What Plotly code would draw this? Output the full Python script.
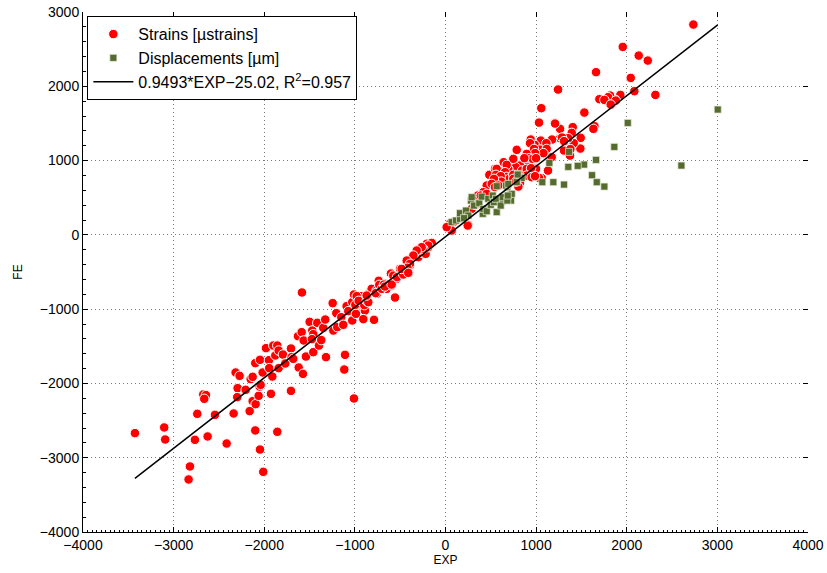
import plotly.graph_objects as go

# Strains [µstrains] (EXP, FE)
strain_exp = [-3427,-3104,-3093,-2835,-2820,-2765,-2739,-2625,-2673,-2643,-2662,-2544,-2415,-2338,-2316,-2272,-2294,-2298,-2205,-2161,-2150,-2128,-2099,-2128,-2095,-2099,-2062,-2051,-2040,-2047,-2011,-2047,-2018,-1981,-1948,-1945,-1926,-1911,-1900,-1856,-1878,-1856,-1841,-1841,-1794,-1768,-1705,-1705,-1698,-1680,-1628,-1620,-1587,-1573,-1584,-1565,-1540,-1499,-1470,-1459,-1474,-1459,-1415,-1396,-1371,-1349,-1327,-1319,-1245,-1238,-1205,-1194,-1150,-1128,-1109,-1117,-1091,-1073,-1029,-1029,-1010,-988,-1010,-933,-907,-889,-870,-833,-815,-789,-760,-756,-668,-649,-594,-557,-539,
              -980,-995,-958,-907,-896,-870,-852,-870,-770,-737,-731,-704,-679,-668,-602,-576,-594,-535,-502,-466,-428,-406,-392,-318,-300,-300,-256,-245,-219,-207,-190,
              -152,-190,-245,-263,-318,-355,-428,-392,-421,-484,-411,
              86,50,68,13,252,289,326,362,411,455,539,484,546,601,668,731,778,877,914,999,
              2735,1956,2132,2232,2044,1661,1242,2316,2084,1929,1874,1816,1794,1819,1698,1532,1057,1032,1205,1264,1404,1643,1632,1492,1488,1393,1415,1355,1264,1308,1374,1175,1113,1051,940,985,1043,1080,1131,1062,1172,969,999,914,877,914,822,775,786,748,859,822,657,693,565,620,417,355,245,
              1209,1286,1308,1378,1113,1117,1080,933,977,988,896,925,962,999,870,999,1032,844,896,944,896,951,988,642,675,557,657,675,712,748,609,616,535,510,546,583,804,748,778,389,455,
              1753,1879,1823]
strain_fe = [-2669,-2593,-2755,-3293,-3118,-2759,-2409,-2714,-2149,-2157,-2207,-2423,-2809,-2405,-1853,-1898,-2064,-2185,-2086,-2373,-1942,-1911,-1727,-2239,-2279,-2633,-2167,-2042,-2019,-2890,-3190,-1682,-1853,-1525,-1687,-1794,-2140,-1907,-1490,-1490,-1624,-2651,-1557,-1794,-1611,-1732,-1530,-2100,-1646,-1669,-1364,-1786,-1310,-1871,-776,-1422,-1638,-1171,-1288,-1337,-1404,-1579,-1184,-1490,-1417,-1252,-1140,-1646,-919,-1288,-1054,-1242,-1108,-1211,-1615,-1813,-960,-1027,-906,-1153,-2203,-1063,-803,-825,-960,-1019,-861,-771,-727,-1144,-750,-794,-659,-727,-682,-844,-592,
             -825,-942,-888,-1135,-946,-892,-906,-817,-785,-619,-673,-727,-669,-696,-521,-548,-669,-570,-458,-534,-359,-507,-413,-256,-202,-300,-242,-198,-256,-121,-166,
             -108,-144,-188,-166,-211,-278,-346,-390,-444,-458,-511,
             171,148,58,104,135,350,404,529,574,664,686,808,888,865,852,834,843,865,888,798,
             2831,2530,2413,2346,2113,2190,1956,1884,1934,1884,1817,1875,1853,1750,1826,1646,1705,1511,1503,1427,1450,1463,1427,1306,1162,1373,1234,1301,1301,1135,1067,1283,1225,1269,1283,1211,1148,1090,865,763,1046,1046,902,1046,1046,933,933,911,1144,1023,865,696,965,888,888,731,574,529,125,
             1498,1310,1261,1154,1234,1157,1100,1234,1157,1100,1090,1032,1023,1032,1032,888,767,865,888,897,798,776,790,978,942,808,843,781,763,808,790,717,754,686,642,664,650,754,717,529,552,
             1817,1808,1754]

# Displacements [µm] (EXP, FE)
disp_exp = [3004,2603,2011,1863,1661,1617,1669,1753,1529,1459,1355,1363,1308,1190,1068,1146,804,830,720,723,682,624,565,565,447,411,362,68,116,160,160,226,252,281,289,315,373,400,417,455,472,499,521,535,557,609,631,682,731,668,693,822,204,841,797,786,687]
disp_fe = [1687,933,1507,1184,1009,803,709,650,946,929,915,1117,677,709,709,969,821,776,552,462,642,449,655,306,314,283,417,171,193,215,292,327,260,462,507,394,426,515,350,319,485,404,529,440,485,394,507,462,552,664,686,776,225,767,812,709,529]

slope = 0.9493
intercept = -25.02
r2 = 0.957

all_x = strain_exp + disp_exp
fit_x = [min(all_x), max(all_x)]
fit_y = [slope * v + intercept for v in fit_x]

FONT = "Liberation Sans, Arial, sans-serif"

fig = go.Figure()
fig.add_trace(go.Scatter(
    x=strain_exp, y=strain_fe, mode="markers", name="Strains [µstrains]",
    marker=dict(symbol="circle", size=9.5, color="#ff0000", line=dict(color="white", width=1))))
fig.add_trace(go.Scatter(
    x=disp_exp, y=disp_fe, mode="markers", name="Displacements [µm]",
    marker=dict(symbol="square", size=7, color="#556b2f", line=dict(color="#e8ecd8", width=0.7))))
fig.add_trace(go.Scatter(
    x=fit_x, y=fit_y, mode="lines",
    name=f"{slope}*EXP\u2212{abs(intercept):.2f}, R<sup>2</sup>={r2}",
    line=dict(color="black", width=1.5)))

axis_common = dict(
    showgrid=True, gridcolor="#7a7a7a", griddash="1px,3px", gridwidth=1,
    zeroline=False, showline=True, linecolor="black", linewidth=1,
    ticks="inside", ticklen=5, tickcolor="black", mirror=False, automargin=False,
    tickfont=dict(family=FONT, size=14, color="black"),
)

fig.update_layout(
    width=827, height=573,
    margin=dict(l=83, r=19, t=12, b=41, autoexpand=False),
    paper_bgcolor="white", plot_bgcolor="white",
    font=dict(family=FONT, color="black"),
    showlegend=True,
    legend=dict(x=0.006, y=0.992, xanchor="left", yanchor="top",
                bordercolor="black", borderwidth=1, bgcolor="white",
                font=dict(family=FONT, size=16, color="black"),
                itemwidth=40, tracegroupgap=0),
    xaxis=dict(range=[-4000, 4000], dtick=1000, tick0=0,
               title=dict(text="EXP", font=dict(family=FONT, size=12), standoff=2),
               minor=dict(dtick=50, ticks="inside", ticklen=2.5, tickcolor="black", showgrid=False),
               **axis_common),
    yaxis=dict(range=[-4000, 3000], dtick=1000, tick0=0,
               title=dict(text="FE", font=dict(family=FONT, size=12), standoff=14),
               minor=dict(dtick=200, ticks="inside", ticklen=2.5, tickcolor="black", showgrid=False),
               **axis_common),
    xaxis2=dict(overlaying="x", side="top", range=[-4000, 4000], dtick=1000, tick0=0,
                showticklabels=False, showgrid=False, zeroline=False, showline=False,
                ticks="inside", ticklen=5, tickcolor="black", anchor="y", automargin=False),
    yaxis2=dict(overlaying="y", side="right", range=[-4000, 3000], dtick=1000, tick0=0,
                showticklabels=False, showgrid=False, zeroline=False, showline=False,
                ticks="inside", ticklen=5, tickcolor="black", anchor="x", automargin=False),
)

# invisible trace so the mirrored tick axes are rendered
fig.add_trace(go.Scatter(x=[None], y=[None], xaxis="x2", yaxis="y2", showlegend=False, hoverinfo="skip"))

fig.write_html("out.html")
